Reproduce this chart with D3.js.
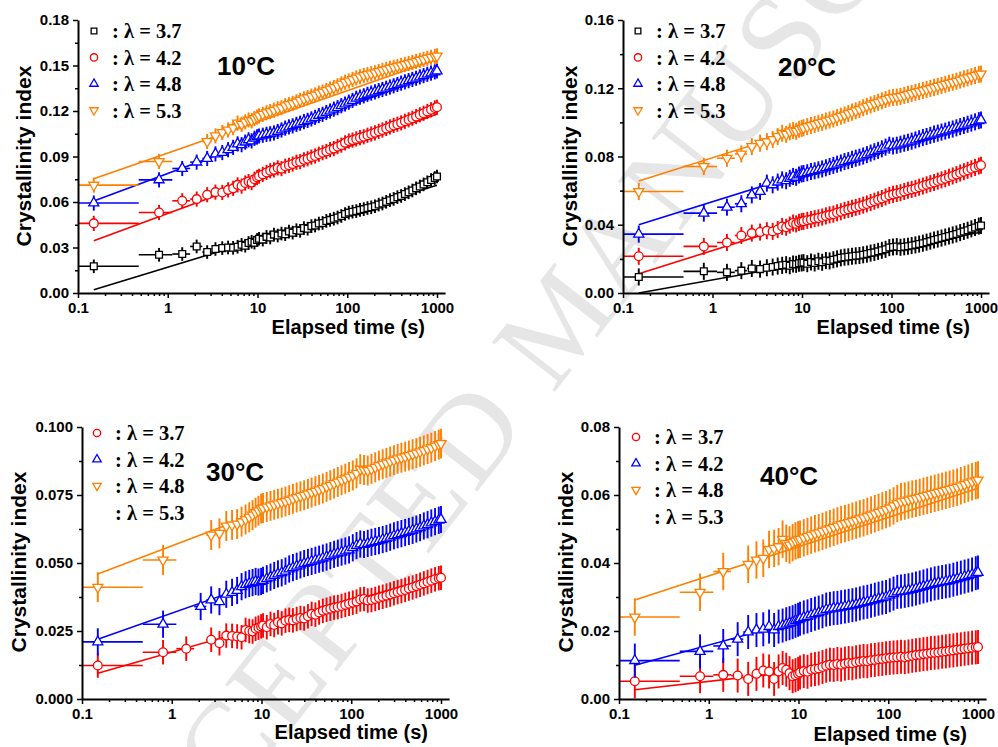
<!DOCTYPE html>
<html><head><meta charset="utf-8">
<script src="https://cdn.jsdelivr.net/npm/d3@7"></script>
<style>body{margin:0;background:#fff}svg{display:block}</style>
</head><body>
<svg id="chart" width="998" height="747"></svg>
<script>
// ---------------- DATA ----------------
const times = [0.15,0.8,1.45,2.1,2.75,3.4,4.05,4.7,5.35,6.0,6.65,7.3,7.95,8.6,9.25,9.9,
 10.4,11.45,12.6,13.85,15.25,16.8,18.5,20.35,22.4,24.65,27.15,29.85,32.9,36.2,39.85,43.85,
 48.25,53.1,58.45,64.35,70.85,78,85.85,94.5,
 104,114.5,126,138.7,152.7,168,185,203.6,224.1,246.6,271.5,298.8,328.9,362,398.5,438.6,
 482.8,531.4,585,643.8,708.7,780,858.6,945,1000];
const timeErr = 0.325;           // half exposure window (s)
const fitTimes = [0.15, 1000];

const lambdaLabels = [": λ = 3.7", ": λ = 4.2", ": λ = 4.8", ": λ = 5.3"];
const panelTitles = ["10°C", "20°C", "30°C", "40°C"];
const xTickValues = [0.1, 1, 10, 100, 1000];
const xTickLabels = ["0.1", "1", "10", "100", "1000"];
const yTicks10 = [0, 0.03, 0.06, 0.09, 0.12, 0.15, 0.18];
const yLabels10 = ["0.00","0.03","0.06","0.09","0.12","0.15","0.18"];
const yTicks20 = [0, 0.04, 0.08, 0.12, 0.16];
const yLabels20 = ["0.00","0.04","0.08","0.12","0.16"];
const yTicks30 = [0, 0.025, 0.05, 0.075, 0.1];
const yLabels30 = ["0.000","0.025","0.050","0.075","0.100"];
const yTicks40 = [0, 0.02, 0.04, 0.06, 0.08];
const yLabels40 = ["0.00","0.02","0.04","0.06","0.08"];

// 10 °C
const ci10_l37 = [0.0176,0.0252,0.0257,0.0307,0.0270,0.0290,0.0296,0.0300,
 0.0298,0.0305,0.0318,0.0312,0.0330,0.0338,0.0332,0.0350,
 0.0358,0.0352,0.0370,0.0366,0.0385,0.0379,0.0392,0.0388,
 0.0405,0.0398,0.0414,0.0410,0.0428,0.0424,0.0441,0.0445,
 0.0458,0.0462,0.0475,0.0482,0.0490,0.0498,0.0508,0.0521,
 0.0530,0.0536,0.0540,0.0548,0.0553,0.0560,0.0565,0.0572,
 0.0583,0.0590,0.0601,0.0612,0.0620,0.0632,0.0640,0.0652,
 0.0664,0.0676,0.0690,0.0702,0.0716,0.0730,0.0745,0.0758,0.0768];
const ci10_l42 = [0.0459,0.0531,0.0608,0.0619,0.0648,0.0665,0.0663,0.0680,
 0.0690,0.0713,0.0705,0.0725,0.0735,0.0728,0.0750,0.0762,
 0.0770,0.0782,0.0795,0.0806,0.0812,0.0825,0.0820,0.0836,
 0.0842,0.0850,0.0862,0.0866,0.0878,0.0885,0.0896,0.0903,
 0.0915,0.0925,0.0933,0.0945,0.0952,0.0965,0.0975,0.0990,
 0.1002,0.1008,0.1016,0.1024,0.1030,0.1040,0.1048,0.1056,
 0.1066,0.1075,0.1085,0.1095,0.1105,0.1113,0.1122,0.1132,
 0.1142,0.1152,0.1163,0.1175,0.1185,0.1197,0.1208,0.1220,0.1225];
const ci10_l48 = [0.0593,0.0746,0.0821,0.0863,0.0887,0.0917,0.0926,0.0945,
 0.0960,0.0983,0.0978,0.0995,0.1010,0.1003,0.1020,0.1030,
 0.1035,0.1040,0.1046,0.1050,0.1055,0.1065,0.1075,0.1087,
 0.1095,0.1102,0.1112,0.1120,0.1130,0.1138,0.1148,0.1158,
 0.1170,0.1178,0.1190,0.1200,0.1212,0.1222,0.1235,0.1246,
 0.1258,0.1270,0.1284,0.1292,0.1300,0.1310,0.1318,0.1326,
 0.1334,0.1342,0.1350,0.1358,0.1366,0.1375,0.1384,0.1392,
 0.1400,0.1408,0.1416,0.1425,0.1433,0.1442,0.1450,0.1458,0.1464];
const ci10_l53 = [0.0711,0.0867,null,null,0.0999,0.1036,0.1058,0.1075,
 0.1090,0.1120,0.1112,0.1128,0.1141,0.1135,0.1150,0.1160,
 0.1168,0.1178,0.1188,0.1196,0.1205,0.1215,0.1222,0.1235,
 0.1242,0.1250,0.1260,0.1270,0.1280,0.1288,0.1298,0.1306,
 0.1318,0.1325,0.1335,0.1345,0.1355,0.1366,0.1378,0.1390,
 0.1398,0.1408,0.1418,0.1426,0.1434,0.1440,0.1446,0.1452,
 0.1460,0.1468,0.1474,0.1482,0.1488,0.1494,0.1500,0.1507,
 0.1513,0.1520,0.1527,0.1534,0.1540,0.1547,0.1554,0.1560,0.1563];
const err10 = [0.0045, 0.005, 0.005, 0.005];
const fit10_l37 = [0.0022, 0.071];
const fit10_l42 = [0.0345, 0.118];
const fit10_l48 = [0.0606, 0.145];
const fit10_l53 = [0.0753, 0.154];

// 20 °C
const ci20_l37 = [0.0094,0.0127,0.0121,0.0131,0.0144,0.0140,0.0148,0.0152,
 0.0158,0.0162,0.0166,0.0160,0.0170,0.0168,0.0174,0.0176,
 0.0178,0.0172,0.0182,0.0176,0.0186,0.0180,0.0190,0.0188,
 0.0195,0.0200,0.0206,0.0210,0.0212,0.0215,0.0218,0.0220,
 0.0224,0.0228,0.0234,0.0238,0.0244,0.0250,0.0256,0.0266,
 0.0270,0.0272,0.0268,0.0271,0.0274,0.0278,0.0282,0.0287,
 0.0292,0.0298,0.0304,0.0311,0.0316,0.0322,0.0328,0.0334,
 0.0340,0.0346,0.0354,0.0361,0.0368,0.0376,0.0384,0.0392,0.0396];
const ci20_l42 = [0.0215,0.0273,0.0296,0.0337,0.0351,0.0357,0.0365,0.0361,
 0.0372,0.0390,0.0385,0.0398,0.0410,0.0405,0.0414,0.0419,
 0.0420,0.0426,0.0430,0.0436,0.0440,0.0445,0.0452,0.0458,
 0.0462,0.0470,0.0476,0.0484,0.0490,0.0496,0.0502,0.0508,
 0.0515,0.0522,0.0530,0.0538,0.0546,0.0554,0.0563,0.0572,
 0.0578,0.0583,0.0588,0.0595,0.0602,0.0607,0.0613,0.0620,
 0.0627,0.0634,0.0641,0.0648,0.0656,0.0663,0.0670,0.0678,
 0.0686,0.0694,0.0703,0.0711,0.0719,0.0728,0.0736,0.0744,0.0749];
const ci20_l48 = [0.0345,0.0468,0.0503,0.0523,0.0575,0.0595,0.0644,0.0634,
 0.0650,0.0663,0.0658,0.0672,0.0683,0.0678,0.0692,0.0698,
 0.0700,0.0705,0.0712,0.0716,0.0722,0.0727,0.0734,0.0741,
 0.0748,0.0755,0.0762,0.0770,0.0776,0.0783,0.0790,0.0796,
 0.0803,0.0811,0.0820,0.0828,0.0836,0.0845,0.0855,0.0866,
 0.0862,0.0866,0.0872,0.0878,0.0884,0.0890,0.0897,0.0904,
 0.0911,0.0917,0.0924,0.0931,0.0937,0.0943,0.0949,0.0955,
 0.0961,0.0968,0.0975,0.0982,0.0989,0.0996,0.1003,0.1010,0.1014];
const ci20_l53 = [0.0595,0.0741,0.0790,0.0815,0.0858,0.0878,0.0887,0.0900,
 0.0917,0.0936,0.0930,0.0945,0.0952,0.0948,0.0960,0.0965,
 0.0968,0.0975,0.0982,0.0988,0.0995,0.1000,0.1008,0.1014,
 0.1020,0.1028,0.1036,0.1043,0.1052,0.1060,0.1068,0.1076,
 0.1086,0.1094,0.1102,0.1110,0.1118,0.1126,0.1134,0.1142,
 0.1146,0.1148,0.1152,0.1158,0.1164,0.1170,0.1176,0.1181,
 0.1187,0.1193,0.1199,0.1205,0.1211,0.1217,0.1223,0.1229,
 0.1235,0.1241,0.1248,0.1255,0.1261,0.1268,0.1275,0.1281,0.1283];
const err20 = [0.005, 0.005, 0.005, 0.005];
const fit20_l37 = [0.0, 0.0356];
const fit20_l42 = [0.0113, 0.0744];
const fit20_l48 = [0.040, 0.1027];
const fit20_l53 = [0.0657, 0.1288];

// 30 °C
const ci30_l37 = [0.0123,0.0172,0.0185,null,0.0218,0.0205,0.0233,0.0232,
 0.0230,0.0227,0.0254,0.0250,0.0248,0.0258,0.0262,0.0267,
 0.0270,0.0264,0.0276,0.0272,0.0282,0.0278,0.0288,0.0291,
 0.0289,0.0294,0.0298,0.0296,0.0304,0.0313,0.0310,0.0318,
 0.0324,0.0328,0.0332,0.0336,0.0338,0.0342,0.0346,0.0350,
 0.0354,0.0358,0.0366,0.0368,0.0362,0.0364,0.0368,0.0372,
 0.0376,0.0380,0.0384,0.0389,0.0393,0.0397,0.0401,0.0406,
 0.0410,0.0415,0.0420,0.0425,0.0430,0.0435,0.0440,0.0444,0.0446];
const ci30_l42 = [0.0210,0.0275,null,0.0340,0.0364,0.0358,0.0385,0.0392,
 0.0399,0.0413,0.0420,0.0425,0.0428,0.0432,0.0430,0.0432,
 0.0436,0.0442,0.0448,0.0454,0.0460,0.0464,0.0470,0.0478,
 0.0483,0.0488,0.0493,0.0498,0.0502,0.0506,0.0510,0.0514,
 0.0518,0.0522,0.0527,0.0532,0.0536,0.0540,0.0544,0.0548,
 0.0556,0.0564,0.0570,0.0568,0.0572,0.0576,0.0579,0.0582,
 0.0586,0.0590,0.0595,0.0600,0.0604,0.0608,0.0612,0.0616,
 0.0620,0.0625,0.0630,0.0636,0.0641,0.0647,0.0652,0.0657,0.0660];
const ci30_l48 = [0.0411,0.0511,null,null,0.0603,0.0609,0.0636,0.0640,
 0.0643,0.0652,0.0660,0.0668,0.0676,0.0685,0.0692,0.0700,
 0.0702,0.0706,0.0710,0.0714,0.0718,0.0722,0.0726,0.0731,
 0.0736,0.0741,0.0745,0.0749,0.0754,0.0759,0.0764,0.0769,
 0.0774,0.0780,0.0786,0.0792,0.0798,0.0804,0.0810,0.0816,
 0.0822,0.0830,0.0845,0.0842,0.0840,0.0846,0.0852,0.0858,
 0.0863,0.0868,0.0873,0.0878,0.0883,0.0887,0.0891,0.0895,
 0.0900,0.0904,0.0909,0.0914,0.0919,0.0924,0.0930,0.0935,0.0939];
const err30 = [0.0045, 0.005, 0.0055];
const fit30_l37 = [0.0095, 0.0455];
const fit30_l42 = [0.022, 0.0664];
const fit30_l48 = [0.046, 0.0938];

// 40 °C
const ci40_l37 = [0.0052,0.0067,0.0071,0.0069,0.0059,0.0074,0.0084,0.0081,
 0.0059,0.0081,0.0091,0.0086,0.0076,0.0067,0.0070,0.0074,
 0.0078,0.0082,0.0080,0.0086,0.0088,0.0090,0.0094,0.0098,
 0.0101,0.0100,0.0103,0.0101,0.0104,0.0106,0.0105,0.0108,
 0.0110,0.0112,0.0111,0.0114,0.0115,0.0117,0.0118,0.0120,
 0.0121,0.0122,0.0123,0.0124,0.0123,0.0125,0.0127,0.0129,
 0.0130,0.0132,0.0133,0.0135,0.0136,0.0137,0.0139,0.0140,
 0.0142,0.0143,0.0145,0.0146,0.0148,0.0149,0.0151,0.0152,0.0153];
const ci40_l42 = [0.0113,0.0140,0.0156,0.0176,0.0197,0.0203,0.0205,0.0213,
 0.0203,0.0213,0.0216,0.0220,0.0223,0.0226,0.0230,0.0233,
 0.0236,0.0240,0.0243,0.0247,0.0251,0.0254,0.0258,0.0263,
 0.0265,0.0267,0.0268,0.0270,0.0272,0.0274,0.0276,0.0278,
 0.0281,0.0284,0.0286,0.0289,0.0292,0.0295,0.0298,0.0300,
 0.0305,0.0310,0.0315,0.0316,0.0318,0.0320,0.0322,0.0325,
 0.0328,0.0331,0.0334,0.0337,0.0340,0.0342,0.0344,0.0346,
 0.0348,0.0351,0.0354,0.0357,0.0360,0.0363,0.0366,0.0370,0.0372];
const ci40_l48 = [0.0241,0.0314,0.0375,null,0.0396,0.0409,0.0414,0.0440,
 0.0443,0.0448,0.0470,0.0458,0.0453,0.0460,0.0465,0.0468,
 0.0470,0.0474,0.0478,0.0482,0.0486,0.0489,0.0493,0.0497,
 0.0501,0.0505,0.0509,0.0513,0.0516,0.0519,0.0523,0.0526,
 0.0530,0.0533,0.0537,0.0541,0.0545,0.0549,0.0553,0.0557,
 0.0562,0.0568,0.0575,0.0580,0.0582,0.0585,0.0588,0.0590,
 0.0593,0.0596,0.0599,0.0602,0.0605,0.0608,0.0611,0.0614,
 0.0617,0.0620,0.0623,0.0627,0.0631,0.0635,0.0639,0.0642,0.0644];
const err40 = [0.005, 0.005, 0.0055];
const fit40_l37 = [0.0027, 0.0142];
const fit40_l42 = [0.0099, 0.0375];
const fit40_l48 = [0.0291, 0.062];

// ---------------- STYLE / LAYOUT ----------------
const COLORS = {black:"#000000", red:"#ff0000", blue:"#0000ff", orange:"#ff8000"};
const SYM = {
  square:{type:d3.symbolSquare, size:46, rot:0},
  circle:{type:d3.symbolCircle, size:60, rot:0},
  up:{type:d3.symbolTriangle, size:44, rot:0},
  down:{type:d3.symbolTriangle, size:44, rot:180}
};
const xAxisEnd = 1230;
const SANS = "'Liberation Sans', Arial, sans-serif";
const SERIF = "'Liberation Serif', 'Times New Roman', serif";

const panels = [
  {x0:78, x1000:437, yTop:20, yBottom:293, yMax:0.18, ticks:yTicks10, labels:yLabels10,
   title:panelTitles[0], tX:217, tY:66, legX:94, legY:31, yTitleX:23, yTitleY:156, xTitleR:425, xTitleY:334,
   series:[
     {v:ci10_l37, e:err10[0], fit:fit10_l37, c:COLORS.black, s:"square"},
     {v:ci10_l42, e:err10[1], fit:fit10_l42, c:COLORS.red, s:"circle"},
     {v:ci10_l48, e:err10[2], fit:fit10_l48, c:COLORS.blue, s:"up"},
     {v:ci10_l53, e:err10[3], fit:fit10_l53, c:COLORS.orange, s:"down"}]},
  {x0:623, x1000:981, yTop:20, yBottom:293, yMax:0.16, ticks:yTicks20, labels:yLabels20,
   title:panelTitles[1], tX:778, tY:67, legX:638, legY:31, yTitleX:569, yTitleY:156, xTitleR:970, xTitleY:334,
   series:[
     {v:ci20_l37, e:err20[0], fit:fit20_l37, c:COLORS.black, s:"square"},
     {v:ci20_l42, e:err20[1], fit:fit20_l42, c:COLORS.red, s:"circle"},
     {v:ci20_l48, e:err20[2], fit:fit20_l48, c:COLORS.blue, s:"up"},
     {v:ci20_l53, e:err20[3], fit:fit20_l53, c:COLORS.orange, s:"down"}]},
  {x0:82, x1000:441, yTop:427, yBottom:699, yMax:0.1, ticks:yTicks30, labels:yLabels30,
   title:panelTitles[2], tX:206, tY:472, legX:97, legY:433, yTitleX:18, yTitleY:562, xTitleR:428, xTitleY:739,
   series:[
     {v:ci30_l37, e:err30[0], fit:fit30_l37, c:COLORS.red, s:"circle"},
     {v:ci30_l42, e:err30[1], fit:fit30_l42, c:COLORS.blue, s:"up"},
     {v:ci30_l48, e:err30[2], fit:fit30_l48, c:COLORS.orange, s:"down"}]},
  {x0:619, x1000:978, yTop:427, yBottom:699, yMax:0.08, ticks:yTicks40, labels:yLabels40,
   title:panelTitles[3], tX:760, tY:476, legX:636, legY:437, yTitleX:565, yTitleY:562, xTitleR:967, xTitleY:741,
   series:[
     {v:ci40_l37, e:err40[0], fit:fit40_l37, c:COLORS.red, s:"circle"},
     {v:ci40_l42, e:err40[1], fit:fit40_l42, c:COLORS.blue, s:"up"},
     {v:ci40_l48, e:err40[2], fit:fit40_l48, c:COLORS.orange, s:"down"}]}
];

const svg = d3.select("#chart");
svg.append("rect").attr("width",998).attr("height",747).attr("fill","#fff");

// watermark
svg.append("text")
  .attr("transform","translate(560,318) rotate(-52)")
  .attr("text-anchor","middle").attr("dominant-baseline","central")
  .style("font-family",SERIF).style("font-size","122px").style("letter-spacing","4px")
  .attr("fill","#e6e6e6").text("ACCEPTED MANUSCRIPT");

const xMinor = [];
[0.1,1,10,100].forEach(d => { for (let k=2;k<=9;k++) xMinor.push(d*k); });

function drawPanel(p) {
  const g = svg.append("g");
  const dec = (p.x1000 - p.x0) / 4;
  const x = d3.scaleLog().domain([0.1, xAxisEnd])
      .range([p.x0, p.x0 + Math.log10(xAxisEnd/0.1)*dec]);
  const y = d3.scaleLinear().domain([0, p.yMax]).range([p.yBottom, p.yTop]);

  // fit lines
  p.series.forEach(s => {
    g.append("path")
      .attr("d", d3.line()(fitTimes.map((t,i)=>[x(t), y(s.fit[i])])))
      .attr("fill","none").attr("stroke", s.c).attr("stroke-width",1.6);
  });

  // data: each point drawn as error bars + open symbol, in time order
  p.series.forEach(s => {
    const pts = times.map((t,i)=>({t, v:s.v[i]})).filter(d => d.v != null && d.v !== undefined);
    const sym = SYM[s.s];
    const symPath = d3.symbol().type(sym.type).size(sym.size)();
    const pg = g.append("g").selectAll("g").data(pts).join("g");
    pg.append("line")
      .attr("x1", d => x(Math.max(d.t - timeErr, 0.1))).attr("x2", d => x(d.t + timeErr))
      .attr("y1", d => y(d.v)).attr("y2", d => y(d.v))
      .attr("stroke", s.c).attr("stroke-width",1.6);
    pg.append("line")
      .attr("x1", d => x(d.t)).attr("x2", d => x(d.t))
      .attr("y1", d => y(Math.max(d.v - s.e, 0))).attr("y2", d => y(d.v + s.e))
      .attr("stroke", s.c).attr("stroke-width",1.9);
    pg.append("path")
      .attr("transform", d => `translate(${x(d.t)},${y(d.v)}) rotate(${sym.rot})`)
      .attr("d", symPath)
      .attr("fill","#fff").attr("stroke", s.c).attr("stroke-width",1.3);
  });

  // axes
  const styleAxis = sel => {
    sel.select(".domain").attr("stroke","#000").attr("stroke-width",2);
    sel.selectAll(".tick line").attr("stroke","#000").attr("stroke-width",1.5);
    sel.selectAll(".tick text").attr("fill","#000")
      .style("font-family",SANS).style("font-size","15px").style("font-weight","bold");
  };
  const yMinor = p.ticks.slice(0,-1).map((t,i)=> (t + p.ticks[i+1])/2);
  g.append("g").attr("transform",`translate(${p.x0},0)`)
    .call(d3.axisLeft(y).tickValues(yMinor).tickSize(3).tickSizeOuter(0).tickFormat(""))
    .call(sel => { sel.select(".domain").remove(); styleAxis(sel); });
  g.append("g").attr("transform",`translate(${p.x0},0)`)
    .call(d3.axisLeft(y).tickValues(p.ticks).tickSize(5).tickSizeOuter(0).tickPadding(4)
      .tickFormat((d,i)=>p.labels[i]))
    .call(styleAxis);
  g.append("g").attr("transform",`translate(0,${p.yBottom})`)
    .call(d3.axisBottom(x).tickValues(xMinor).tickSize(3).tickSizeOuter(0).tickFormat(""))
    .call(sel => { sel.select(".domain").remove(); styleAxis(sel); });
  g.append("g").attr("transform",`translate(0,${p.yBottom})`)
    .call(d3.axisBottom(x).tickValues(xTickValues).tickSize(5).tickSizeOuter(0).tickPadding(4)
      .tickFormat((d,i)=>xTickLabels[i]))
    .call(styleAxis);

  // axis titles
  g.append("text").attr("transform",`translate(${p.yTitleX},${p.yTitleY}) rotate(-90)`)
    .attr("text-anchor","middle").attr("dominant-baseline","central")
    .style("font-family",SANS).style("font-size","21px").style("font-weight","bold")
    .text("Crystallinity index");
  g.append("text").attr("x",p.xTitleR).attr("y",p.xTitleY).attr("text-anchor","end")
    .style("font-family",SANS).style("font-size","20px").style("font-weight","bold")
    .text("Elapsed time (s)");

  // temperature label
  g.append("text").attr("x",p.tX).attr("y",p.tY).attr("dy","0.36em")
    .style("font-family",SANS).style("font-size","26px").style("font-weight","bold")
    .text(p.title);

  // legend
  lambdaLabels.forEach((lab,i) => {
    const ly = p.legY + i*26.4;
    const s = p.series[i];
    if (s) {
      const sym = SYM[s.s];
      g.append("path").attr("transform",`translate(${p.legX},${ly}) rotate(${sym.rot})`)
        .attr("d", d3.symbol().type(sym.type).size(sym.size*0.7)())
        .attr("fill","#fff").attr("stroke", s.c).attr("stroke-width",1.3);
    }
    g.append("text").attr("x", p.legX + 18).attr("y", ly).attr("dy","0.36em")
      .style("font-family",SERIF).style("font-size","20.5px").style("font-weight","bold")
      .text(lab);
  });
}
panels.forEach(drawPanel);
</script>
</body></html>
